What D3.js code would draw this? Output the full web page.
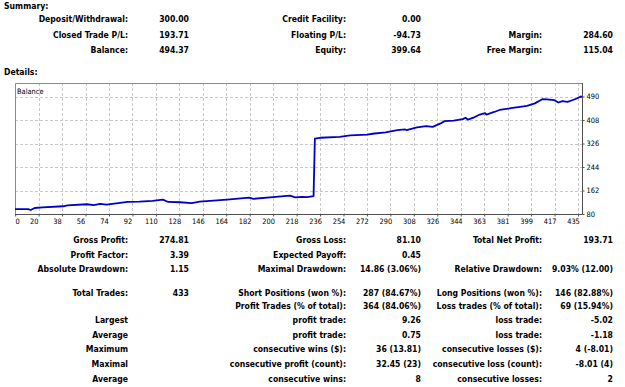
<!DOCTYPE html>
<html>
<head>
<meta charset="utf-8">
<script src="https://cdn.jsdelivr.net/npm/d3@7"></script>
<style>
  body { margin: 0; background: #fff; }
  svg text { font-family: "Liberation Sans Narrow", "DejaVu Sans Condensed", "Liberation Sans", sans-serif; fill: #000; }
  .lbl { font-size: 8.6px; font-weight: bold; }
  .axis text { font-size: 7.4px; font-weight: normal; }
</style>
</head>
<body>
<div class="panel"></div>
<script>
// balance curve (trade number, balance)
const tradeNo = [0, 10, 12, 15, 21, 37, 40, 55, 60, 65, 70, 86, 95, 105, 113, 117, 126, 135, 141, 162,
                 179, 182, 197, 210, 214, 219, 223, 228, 229, 233, 248, 256, 269, 273, 283, 292, 298, 299,
                 307, 314, 319, 325, 328, 335, 342, 344, 346, 350, 355, 359, 360, 366, 370, 380, 383, 391,
                 397, 403, 406, 412, 415, 418, 422, 425, 429, 432, 433];
const balance = [97, 97, 94, 101, 103, 107, 110, 114, 111, 115, 113, 122, 123, 126, 130, 122, 121, 118, 123, 130,
                 137, 133, 139, 144, 138, 140, 139, 142, 343, 346, 349, 354, 357, 360, 365, 373, 375, 373,
                 382, 387, 384, 396, 404, 406, 411, 416, 409, 416, 427, 432, 427, 436, 443, 450, 452, 457,
                 466, 481, 480, 477, 469, 474, 471, 476, 483, 490, 489];

const xTickLabels = ["0", "20", "38", "56", "74", "92", "110", "128", "146", "164", "182", "200", "218",
                     "236", "254", "272", "290", "308", "326", "344", "363", "381", "399", "417", "435"];
const yTicks = [80, 162, 244, 326, 408, 490];

const summaryCol1 = [["Deposit/Withdrawal:", "300.00"], ["Closed Trade P/L:", "193.71"], ["Balance:", "494.37"]];
const summaryCol2 = [["Credit Facility:", "0.00"], ["Floating P/L:", "-94.73"], ["Equity:", "399.64"]];
const summaryCol3 = [["", ""], ["Margin:", "284.60"], ["Free Margin:", "115.04"]];

const detailsCol1 = [["Gross Profit:", "274.81"], ["Profit Factor:", "3.39"], ["Absolute Drawdown:", "1.15"],
                     ["Total Trades:", "433"], ["", ""], ["Largest", ""], ["Average", ""],
                     ["Maximum", ""], ["Maximal", ""], ["Average", ""]];
const detailsCol2 = [["Gross Loss:", "81.10"], ["Expected Payoff:", "0.45"], ["Maximal Drawdown:", "14.86 (3.06%)"],
                     ["Short Positions (won %):", "287 (84.67%)"], ["Profit Trades (% of total):", "364 (84.06%)"],
                     ["profit trade:", "9.26"], ["profit trade:", "0.75"], ["consecutive wins ($):", "36 (13.81)"],
                     ["consecutive profit (count):", "32.45 (23)"], ["consecutive wins:", "8"]];
const detailsCol3 = [["Total Net Profit:", "193.71"], ["", ""], ["Relative Drawdown:", "9.03% (12.00)"],
                     ["Long Positions (won %):", "146 (82.88%)"], ["Loss trades (% of total):", "69 (15.94%)"],
                     ["loss trade:", "-5.02"], ["loss trade:", "-1.18"], ["consecutive losses ($):", "4 (-8.01)"],
                     ["consecutive loss (count):", "-8.01 (4)"], ["consecutive losses:", "2"]];

const width = 625;
const height = 387;

const svg = d3.select(".panel")
    .append("svg")
    .attr("width", width)
    .attr("height", height)
    .attr("viewBox", `0 0 ${width} ${height}`);

// ---- text blocks
svg.append("text").attr("class", "lbl").attr("x", 4).attr("y", 9).text("Summary:");
svg.append("text").attr("class", "lbl").attr("x", 4).attr("y", 74.5).text("Details:");

const colX = [[128, 189], [346, 421], [542, 613]];
const summaryY = [21.5, 37.5, 53];
const detailsY = [243, 257.5, 272, 295.5, 309, 323, 337.5, 352, 366.5, 381.5];

function drawColumn(rows, xs, ys){
  rows.forEach((r, i) => {
    svg.append("text").attr("class", "lbl")
       .attr("x", xs[0]).attr("y", ys[i]).attr("text-anchor", "end").text(r[0]);
    svg.append("text").attr("class", "lbl")
       .attr("x", xs[1]).attr("y", ys[i]).attr("text-anchor", "end").text(r[1]);
  });
}
drawColumn(summaryCol1, colX[0], summaryY);
drawColumn(summaryCol2, colX[1], summaryY);
drawColumn(summaryCol3, colX[2], summaryY);
drawColumn(detailsCol1, colX[0], detailsY);
drawColumn(detailsCol2, colX[1], detailsY);
drawColumn(detailsCol3, colX[2], detailsY);

// ---- chart
const plotLeft = 15, plotRight = 582, plotTop = 83, plotBottom = 214;

const x = d3.scaleLinear().domain([0, 433]).range([plotLeft, plotRight]);
const y = d3.scaleLinear().domain([80, 490]).range([plotBottom, 96.5]);
const xTick = d3.scaleLinear().domain([0, xTickLabels.length - 1]).range([15.2, 578]);

svg.append("rect")
   .attr("x", plotLeft).attr("y", plotTop)
   .attr("width", plotRight - plotLeft).attr("height", plotBottom - plotTop)
   .attr("fill", "#fff");

// grid
svg.append("g").selectAll("line")
   .data(d3.range(1, xTickLabels.length))
   .enter().append("line")
   .attr("x1", d => Math.round(xTick(d)) + 0.5).attr("x2", d => Math.round(xTick(d)) + 0.5)
   .attr("y1", plotTop).attr("y2", plotBottom)
   .attr("stroke", "#c8c8c8").attr("stroke-dasharray", "3,2");

svg.append("g").selectAll("line")
   .data(yTicks.slice(1))
   .enter().append("line")
   .attr("x1", plotLeft).attr("x2", plotRight)
   .attr("y1", d => Math.round(y(d)) + 0.5).attr("y2", d => Math.round(y(d)) + 0.5)
   .attr("stroke", "#c8c8c8").attr("stroke-dasharray", "3,2");

// frame
svg.append("path")
   .attr("d", `M${plotLeft + 0.5},${plotBottom}V${plotTop + 0.5}H${plotRight}`)
   .attr("fill", "none").attr("stroke", "#8a8a8a");
svg.append("path")
   .attr("d", `M${plotLeft},${plotBottom + 0.5}H${plotRight + 0.5}V${plotTop}`)
   .attr("fill", "none").attr("stroke", "#505050");

svg.append("text")
   .attr("x", 17).attr("y", 93.5)
   .style("font-size", "7.4px")
   .text("Balance");

// balance line
const pts = tradeNo.map((t, i) => [t, balance[i]]);
svg.append("path")
   .datum(pts)
   .attr("fill", "none")
   .attr("stroke", "#0000c8")
   .attr("stroke-width", 1.8)
   .attr("stroke-linejoin", "round")
   .attr("d", d3.line().x(d => x(d[0])).y(d => y(d[1])));

// axes
const xAxis = svg.append("g")
   .attr("class", "axis")
   .attr("transform", `translate(0, ${plotBottom + 0.5})`)
   .call(d3.axisBottom(xTick)
          .tickValues(d3.range(xTickLabels.length))
          .tickFormat(i => xTickLabels[i])
          .tickSize(2).tickPadding(2));
xAxis.select(".domain").remove();
xAxis.selectAll(".tick line").attr("stroke", "#505050");
xAxis.selectAll(".tick text")
     .attr("dx", i => i === 0 ? 2 : -5)
     .attr("fill", "#000");

const yAxis = svg.append("g")
   .attr("class", "axis")
   .attr("transform", `translate(${plotRight + 0.5}, 0)`)
   .call(d3.axisRight(y).tickValues(yTicks).tickSize(2).tickPadding(2));
yAxis.select(".domain").remove();
yAxis.selectAll(".tick line").attr("stroke", "#505050");
yAxis.selectAll(".tick text").attr("fill", "#000");
</script>
</body>
</html>
